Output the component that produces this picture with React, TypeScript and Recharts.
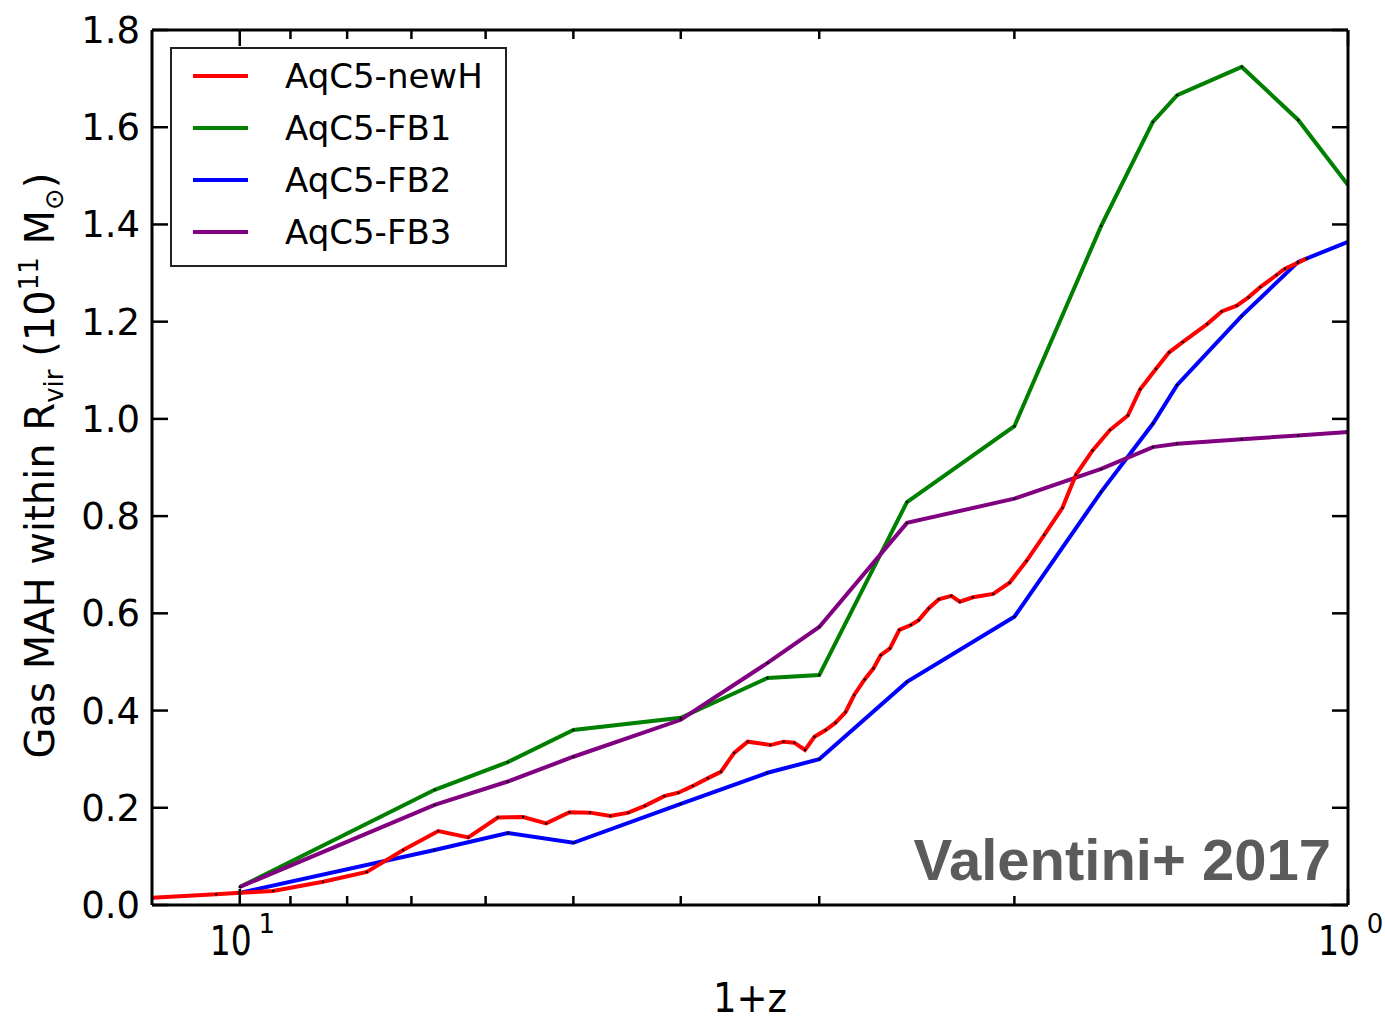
import React from 'react';
import { LineChart, Line, XAxis, YAxis, Legend } from 'recharts';

// 1+z values and gas mass (1e11 Msun)
const newHZ = [12.0, 10.5, 10.0, 9.33, 8.41, 7.68, 7.12, 6.62, 6.22, 5.85, 5.55, 5.29, 5.04, 4.83, 4.63, 4.46, 4.31, 4.14, 4.02, 3.9, 3.78, 3.68, 3.58, 3.48, 3.32, 3.23, 3.16, 3.09, 3.03, 2.96, 2.9, 2.84, 2.79, 2.73, 2.68, 2.64, 2.59, 2.54, 2.48, 2.44, 2.39, 2.34, 2.28, 2.24, 2.18, 2.09, 2.02, 1.95, 1.88, 1.81, 1.76, 1.7, 1.64, 1.58, 1.54, 1.49, 1.45, 1.41, 1.34, 1.3, 1.26, 1.23, 1.2, 1.16, 1.14, 1.11, 1.09];
const newHMass = [0.015, 0.022, 0.025, 0.029, 0.048, 0.068, 0.113, 0.152, 0.139, 0.18, 0.181, 0.168, 0.191, 0.19, 0.183, 0.19, 0.204, 0.224, 0.231, 0.245, 0.261, 0.274, 0.313, 0.336, 0.329, 0.336, 0.334, 0.319, 0.346, 0.36, 0.375, 0.397, 0.432, 0.464, 0.487, 0.514, 0.528, 0.566, 0.576, 0.586, 0.61, 0.629, 0.636, 0.624, 0.633, 0.64, 0.663, 0.708, 0.761, 0.817, 0.885, 0.935, 0.977, 1.007, 1.061, 1.103, 1.137, 1.158, 1.195, 1.221, 1.233, 1.25, 1.271, 1.296, 1.309, 1.321, 1.33];

const fb1Z = [10, 6.67, 5.73, 5.0, 4.0, 3.34, 3.0, 2.5, 2.0, 1.67, 1.5, 1.426, 1.247, 1.109, 1.0];
const fb1Mass = [0.037, 0.237, 0.294, 0.36, 0.385, 0.467, 0.473, 0.829, 0.985, 1.397, 1.611, 1.666, 1.724, 1.615, 1.481];

const fb2Z = [10, 6.67, 5.73, 5.0, 4.0, 3.34, 3.0, 2.5, 2.0, 1.67, 1.5, 1.426, 1.247, 1.109, 1.0];
const fb2Mass = [0.025, 0.113, 0.148, 0.128, 0.208, 0.272, 0.3, 0.459, 0.593, 0.85, 0.99, 1.07, 1.212, 1.323, 1.364];

const fb3Z = [10, 6.67, 5.73, 5.0, 4.0, 3.34, 3.0, 2.5, 2.0, 1.67, 1.5, 1.426, 1.247, 1.109, 1.0];
const fb3Mass = [0.037, 0.206, 0.254, 0.305, 0.381, 0.498, 0.572, 0.786, 0.836, 0.897, 0.942, 0.949, 0.958, 0.966, 0.973];

const xTicks = [1, 2, 3, 4, 5, 6, 7, 8, 9, 10];
const majorX = [1, 10];
const yTicks = [0, 0.2, 0.4, 0.6, 0.8, 1.0, 1.2, 1.4, 1.6, 1.8];

const seriesNames = ['AqC5-newH', 'AqC5-FB1', 'AqC5-FB2', 'AqC5-FB3'];
const seriesColors = ['#ff0000', '#008000', '#0000ff', '#800080'];

const toPoints = (zs: number[], ms: number[]) => zs.map((z, i) => ({ z, m: ms[i] }));
const newHData = toPoints(newHZ, newHMass);
const fb1Data = toPoints(fb1Z, fb1Mass);
const fb2Data = toPoints(fb2Z, fb2Mass);
const fb3Data = toPoints(fb3Z, fb3Mass);

const FONT = 'DejaVu Sans, sans-serif';
const MAJOR = 16;
const MINOR = 9;

const BottomTick = (props: any) => {
    const { x, y, payload } = props;
    const major = majorX.includes(payload.value);
    const exp = payload.value === 10 ? '1' : '0';
    return (
        <g>
            <line x1={x} x2={x} y1={y} y2={y - (major ? MAJOR : MINOR)} stroke="#000" strokeWidth={2.5} />
            {major && (
                <g>
                    <text x={x - 9} y={y + 50} textAnchor="middle" fontSize={40} fontFamily={FONT} textLength={42} lengthAdjust="spacingAndGlyphs" fill="#000">10</text>
                    <text x={x + 27} y={y + 28} textAnchor="middle" fontSize={26} fontFamily={FONT} fill="#000">{exp}</text>
                </g>
            )}
        </g>
    );
};

const TopTick = (props: any) => {
    const { x, y, payload } = props;
    const major = majorX.includes(payload.value);
    return <line x1={x} x2={x} y1={y} y2={y + (major ? MAJOR : MINOR)} stroke="#000" strokeWidth={2.5} />;
};

const LeftTick = (props: any) => {
    const { x, y, payload } = props;
    return (
        <g>
            <line x1={x} x2={x + MAJOR} y1={y} y2={y} stroke="#000" strokeWidth={2.5} />
            <text x={x - 12} y={y + 13} textAnchor="end" fontSize={37} fontFamily={FONT} fill="#000">{payload.value.toFixed(1)}</text>
        </g>
    );
};

const RightTick = (props: any) => {
    const { x, y } = props;
    return <line x1={x} x2={x - MAJOR} y1={y} y2={y} stroke="#000" strokeWidth={2.5} />;
};

const YLabel = (props: any) => {
    const { viewBox } = props;
    const cy = viewBox.y + viewBox.height / 2;
    return (
        <text transform={`translate(54, ${cy - 2}) rotate(-90)`} textAnchor="middle" fontSize={40} fontFamily={FONT} fill="#000">
            Gas MAH within R<tspan dy={9} fontSize={26}>vir</tspan>
            <tspan dy={-9}> (10</tspan>
            <tspan dy={-16} fontSize={26}>11</tspan>
            <tspan dy={16}>  M</tspan>
            <tspan dy={9} fontSize={26}>⊙</tspan>
            <tspan dy={-9}>)</tspan>
        </text>
    );
};

const XLabel = (props: any) => {
    const { viewBox } = props;
    return (
        <text x={viewBox.x + viewBox.width / 2} y={viewBox.y + 107} textAnchor="middle" fontSize={40} fontFamily={FONT} textLength={74} lengthAdjust="spacingAndGlyphs" fill="#000">1+z</text>
    );
};

const LegendBox = () => (
    <svg width={337} height={220}>
        <rect x={1} y={1} width={335} height={218} fill="#fff" stroke="#222" strokeWidth={2} />
        {seriesNames.map((name, i) => (
            <g key={name}>
                <line x1={23} x2={78} y1={29 + i * 52} y2={29 + i * 52} stroke={seriesColors[i]} strokeWidth={4} />
                <text x={115} y={41 + i * 52} fontSize={34} fontFamily={FONT} fill="#000">{name}</text>
            </g>
        ))}
    </svg>
);

const dotStyle = { r: 1.2, fill: '#000', stroke: 'none' };

export default function App() {
    return (
        <div style={{ position: 'relative', width: 1385, height: 1021, background: '#fff' }}>
            <style>{'body{margin:0;background:#fff}'}</style>
            <LineChart width={1385} height={1021} margin={{ top: 29, right: 36, left: 0, bottom: 0 }}>
                <XAxis xAxisId="bottom" dataKey="z" type="number" scale="log" domain={[1, 12]} reversed allowDataOverflow
                    ticks={xTicks} interval={0} height={116} tickSize={0} tickMargin={0} tickLine={false}
                    axisLine={{ stroke: '#000', strokeWidth: 3 }} tick={<BottomTick />} label={<XLabel />} />
                <XAxis xAxisId="top" orientation="top" dataKey="z" type="number" scale="log" domain={[1, 12]} reversed allowDataOverflow
                    ticks={xTicks} interval={0} height={1} tickSize={0} tickMargin={0} tickLine={false}
                    axisLine={{ stroke: '#000', strokeWidth: 3 }} tick={<TopTick />} />
                <YAxis yAxisId="left" type="number" domain={[0, 1.8]} ticks={yTicks} interval={0} width={152}
                    tickSize={0} tickMargin={0} tickLine={false} axisLine={{ stroke: '#000', strokeWidth: 3 }}
                    tick={<LeftTick />} label={<YLabel />} />
                <YAxis yAxisId="right" orientation="right" type="number" domain={[0, 1.8]} ticks={yTicks} interval={0} width={1}
                    tickSize={0} tickMargin={0} tickLine={false} axisLine={{ stroke: '#000', strokeWidth: 3 }}
                    tick={<RightTick />} />
                <Legend layout="vertical" align="center" verticalAlign="middle"
                    wrapperStyle={{ left: 170, top: 47, width: 337, height: 220 }} content={<LegendBox />} />
                {/* invisible series so the top and right frame axes get drawn */}
                <Line xAxisId="top" yAxisId="right" data={fb1Data} dataKey="m" stroke="none" dot={false} activeDot={false}
                    legendType="none" isAnimationActive={false} />
                <Line xAxisId="bottom" yAxisId="left" data={fb1Data} dataKey="m" name={seriesNames[1]} stroke={seriesColors[1]}
                    strokeWidth={4} dot={dotStyle} activeDot={false} isAnimationActive={false} />
                <Line xAxisId="bottom" yAxisId="left" data={fb2Data} dataKey="m" name={seriesNames[2]} stroke={seriesColors[2]}
                    strokeWidth={4} dot={dotStyle} activeDot={false} isAnimationActive={false} />
                <Line xAxisId="bottom" yAxisId="left" data={fb3Data} dataKey="m" name={seriesNames[3]} stroke={seriesColors[3]}
                    strokeWidth={4} dot={dotStyle} activeDot={false} isAnimationActive={false} />
                <Line xAxisId="bottom" yAxisId="left" data={newHData} dataKey="m" name={seriesNames[0]} stroke={seriesColors[0]}
                    strokeWidth={4} dot={dotStyle} activeDot={false} isAnimationActive={false} />
            </LineChart>
            <svg width={1385} height={1021} style={{ position: 'absolute', left: 0, top: 0, pointerEvents: 'none' }}>
                <text x={1331} y={880} textAnchor="end" fontSize={58} fontWeight="bold" fontFamily="Liberation Sans, Arial, sans-serif" fill="#5b5b5b">Valentini+ 2017</text>
            </svg>
        </div>
    );
}
